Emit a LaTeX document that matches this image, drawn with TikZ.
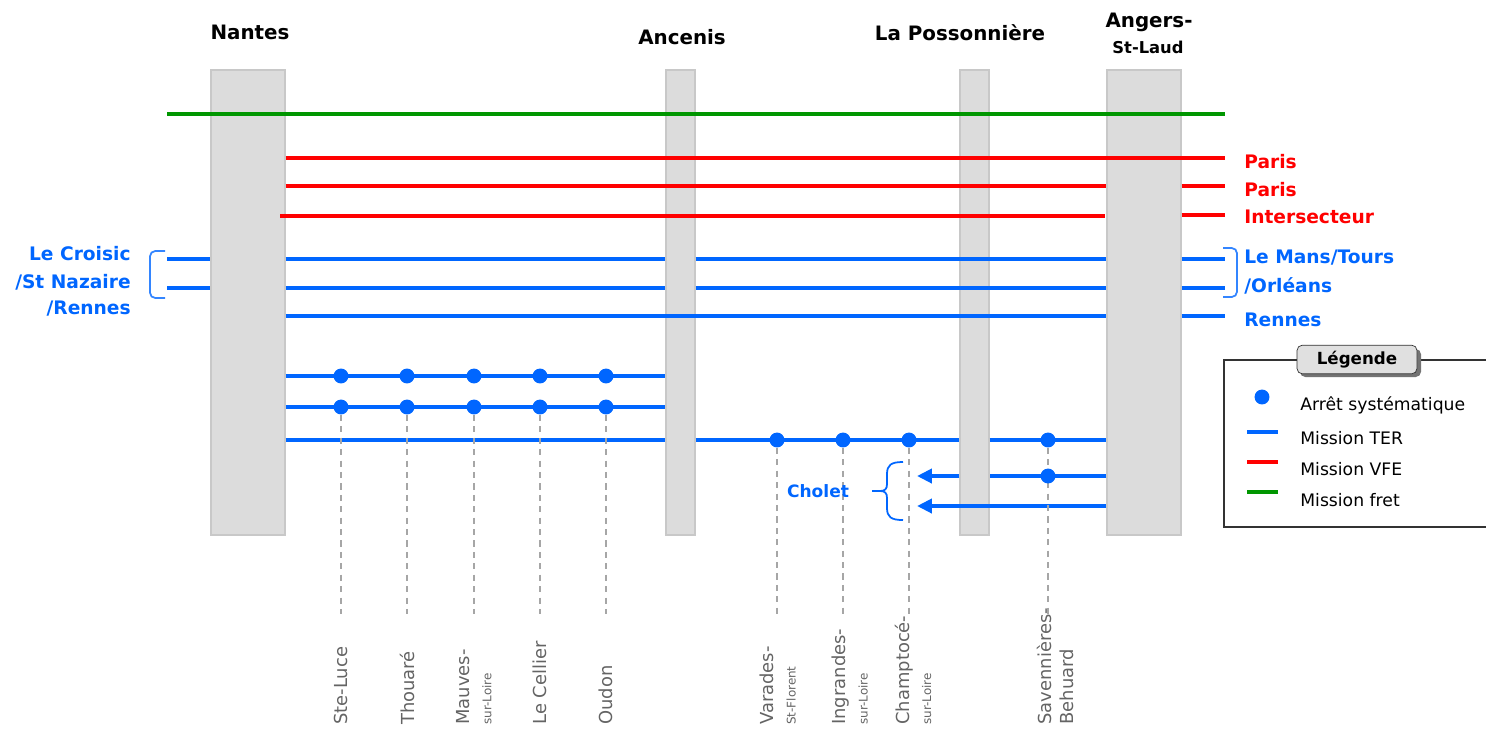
\documentclass[tikz,border=0pt]{standalone}
\usepackage{fontspec}
\setmainfont{DejaVu Sans}
\usetikzlibrary{arrows.meta}

\definecolor{bleuter}{RGB}{0,102,255}
\definecolor{rougevfe}{RGB}{255,0,0}
\definecolor{vertfret}{RGB}{0,150,0}
\definecolor{grisgare}{RGB}{220,220,220}
\definecolor{bordgare}{RGB}{200,200,200}
\definecolor{gristexte}{RGB}{100,100,100}

\tikzset{
	gare/.style={draw=bordgare, fill=grisgare, line width=.8pt, inner sep=0pt},
	nom/.style={font=\bfseries\fontsize{11.3}{13}\selectfont, inner sep=0pt},
	ter/.style={bleuter, line width=2.3pt},
	vfe/.style={rougevfe, line width=2.3pt},
	fret/.style={vertfret, line width=2.3pt},
	arret/.style={circle, fill=bleuter, inner sep=0pt, minimum size=8.5pt},
	tiret/.style={black!35, line width=.7pt, dash pattern=on 3.5pt off 3pt},
	halte/.style={gristexte, rotate=90, anchor=west, align=left, inner sep=0pt, font=\fontsize{10.2}{12.5}\selectfont},
	cote/.style={font=\bfseries\fontsize{10.6}{12}\selectfont, inner sep=0pt},
	legtxt/.style={anchor=west, inner sep=0pt, font=\fontsize{9.8}{11}\selectfont},
	accolade/.style={bleuter!80, line width=1pt, rounded corners=3pt},
}
\newcommand{\petit}[1]{{\fontsize{6.8}{8}\selectfont #1}}

\begin{document}
\begin{tikzpicture}[x=0.02cm, y=-0.02cm]
	\useasboundingbox (0,0) rectangle (1486,728);
	
	% Gares
	\node[gare, minimum width=1.48cm, minimum height=9.3cm] (nantes) at (248,302.5) {};
	\node[gare, minimum width=.58cm, minimum height=9.3cm] (ancenis) at (680.5,302.5) {};
	\node[gare, minimum width=.58cm, minimum height=9.3cm] (possonniere) at (974.5,302.5) {};
	\node[gare, minimum width=1.48cm, minimum height=9.3cm] (angers) at (1144,302.5) {};
	
	% Noms des gares
	\node[nom] (tnantes) at (250,32) {Nantes};
	\node[nom] (tancenis) at (682,37) {Ancenis};
	\node[nom] (tposs) at (960,33) {La Possonnière};
	\node[nom] (tangers) at (1149,22) {Angers-};
	\node[nom, font=\bfseries\fontsize{9.3}{11}\selectfont] (tlaud) at (1148,47) {St-Laud};
	
	% Fret
	\draw[fret] (167,114) -- (1225,114);
	
	% VFE
	\draw[vfe] (nantes.east |- 0,158) -- (1225,158);
	\draw[vfe] (nantes.east |- 0,186) -- (angers.west |- 0,186);
	\draw[vfe] (angers.east |- 0,186) -- (1225,186);
	\draw[vfe] (280,216) -- (1105,216);
	\draw[vfe] (angers.east |- 0,215) -- (1225,215);
	
	% TER directs
	\foreach \y in {259,288} {
		\draw[ter] (167,\y) -- (nantes.west |- 0,\y);
		\draw[ter] (nantes.east |- 0,\y) -- (ancenis.west |- 0,\y);
		\draw[ter] (ancenis.east |- 0,\y) -- (angers.west |- 0,\y);
		\draw[ter] (angers.east |- 0,\y) -- (1225,\y);
	}
	\draw[ter, line width=2.8pt] (nantes.east |- 0,316) -- (angers.west |- 0,316);
	\draw[ter] (angers.east |- 0,316) -- (1225,316);
	
	% TER omnibus
	\foreach \y in {376,407,440}
		\draw[ter] (nantes.east |- 0,\y) -- (ancenis.west |- 0,\y);
	\draw[ter] (ancenis.east |- 0,440) -- (possonniere.west |- 0,440);
	\draw[ter] (possonniere.east |- 0,440) -- (angers.west |- 0,440);
	
	% Vers Cholet
	\coordinate (cholet1) at (917,476);
	\coordinate (cholet2) at (917,506);
	\draw[ter] (angers.west |- 0,476) -- (possonniere.east |- 0,476);
	\draw[ter, -{Triangle[length=8.5pt, width=8pt]}] (possonniere.west |- 0,476) -- (cholet1);
	\draw[ter, -{Triangle[length=8.5pt, width=8pt]}] (angers.west |- 0,506) -- (cholet2);
	
	% Arrets
	\foreach \x [count=\i] in {341,407,474,540,606} {
		\node[arret] (o\i) at (\x,376) {};
		\node[arret] (p\i) at (\x,407) {};
		\draw[tiret] (p\i) -- (p\i |- 0,614);
	}
	\foreach \x [count=\i] in {777,843,909,1048} {
		\node[arret] (q\i) at (\x,440) {};
		\draw[tiret] (q\i) -- (q\i |- 0,614);
	}
	\node[arret] (r1) at (1048,476) {};
	
	% Haltes
	\node[halte] (steluce) at (341,725) {Ste-Luce};
	\node[halte] (thouare) at (407,725) {Thouaré};
	\node[halte] (mauves) at (474,725) {Mauves-\\\petit{sur-Loire}};
	\node[halte] (cellier) at (540,725) {Le Cellier};
	\node[halte] (oudon) at (606,725) {Oudon};
	\node[halte] (varades) at (778,725) {Varades-\\\petit{St-Florent}};
	\node[halte] (ingrandes) at (850,725) {Ingrandes-\\\petit{sur-Loire}};
	\node[halte] (champtoce) at (913,725) {Champtocé-\\\petit{sur-Loire}};
	\node[halte] (savennieres) at (1055,725) {Savennières-\\Behuard};
	
	% Origines et destinations
	\draw[accolade] (165,251) -- (150,251) -- (150,298) -- (165,298);
	\node[cote, bleuter, anchor=east] (croisic) at (131,254) {Le Croisic};
	\node[cote, bleuter, anchor=east] (nazaire) at (131,282) {/St Nazaire};
	\node[cote, bleuter, anchor=east] (rennesg) at (131,309) {/Rennes};
	
	\draw[accolade] (1223,248) -- (1237,248) -- (1237,297) -- (1223,297);
	\node[cote, rougevfe, anchor=west] (paris1) at (1244,162) {Paris};
	\node[cote, rougevfe, anchor=west] (paris2) at (1244,190) {Paris};
	\node[cote, rougevfe, anchor=west] (inter) at (1244,217) {Intersecteur};
	\node[cote, bleuter, anchor=west] (lemans) at (1244,258) {Le Mans/Tours};
	\node[cote, bleuter, anchor=west] (orleans) at (1244,286) {/Orléans};
	\node[cote, bleuter, anchor=west] (rennesd) at (1244,320) {Rennes};
	
	% Cholet
	\draw[bleuter, line width=1pt] (903,462) .. controls (891,462) and (887,465) .. (887,474) -- (887,484)
		.. controls (887,489) and (885,491) .. (880,491) -- (872,491);
	\draw[bleuter, line width=1pt] (903,520) .. controls (891,520) and (887,517) .. (887,508) -- (887,498)
		.. controls (887,493) and (885,491) .. (880,491);
	\node[cote, bleuter, font=\bfseries\fontsize{9.7}{11}\selectfont] (cholet) at (818,491) {Cholet};
	
	% Legende
	\draw[black!80, line width=.6pt] (1224,360) rectangle (1500,527);
	\fill[black!55, rounded corners=3pt] (1300,349) rectangle (1421,377);
	\node[draw=black!80, fill=black!12, rounded corners=3pt, minimum width=2.4cm, minimum height=.54cm,
		font=\bfseries\fontsize{9.5}{11}\selectfont] (legende) at (1357,359.5) {Légende};
	\node[arret] (leg1) at (1262,397) {};
	\node[legtxt] (t1) at (1300,405) {Arrêt systématique};
	\draw[ter] (1247,432) -- (1278,432);
	\node[legtxt] (t2) at (1300,438) {Mission TER};
	\draw[vfe] (1247,462) -- (1278,462);
	\node[legtxt] (t3) at (1300,469) {Mission VFE};
	\draw[fret] (1247,492) -- (1278,492);
	\node[legtxt] (t4) at (1300,500) {Mission fret};
	
\end{tikzpicture}
\end{document}
